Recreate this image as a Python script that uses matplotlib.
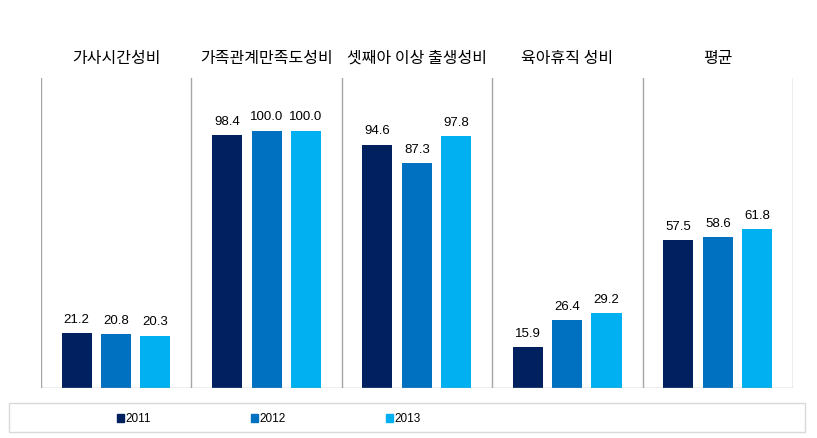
import matplotlib
matplotlib.use("Agg")
import matplotlib.pyplot as plt
from matplotlib.patches import Rectangle
import numpy as np

plt.rcParams['font.family'] = ['Noto Sans CJK KR', 'DejaVu Sans']

categories = ['가사시간성비', '가족관계만족도성비', '셋째아 이상 출생성비', '육아휴직 성비', '평균']
years = ['2011', '2012', '2013']
v2011 = [21.2, 98.4, 94.6, 15.9, 57.5]
v2012 = [20.8, 100.0, 87.3, 26.4, 58.6]
v2013 = [20.3, 100.0, 97.8, 29.2, 61.8]
colors = ['#002060', '#0070C0', '#00B0F0']

fig = plt.figure(figsize=(8.17, 4.39), dpi=100)
ax = fig.add_axes([41/817, 1-389/439, (793-41)/817, (389-79)/439])
ax.set_xlim(0, 5)
ax.set_ylim(0, 120.5)

offsets = [-0.263, 0.0, 0.26]
w = 0.2
x = np.arange(len(categories)) + 0.5
for vals, off, c, yr in zip([v2011, v2012, v2013], offsets, colors, years):
    ax.bar(x + off, vals, width=w, color=c, label=yr)
    for xi, v in zip(x + off, vals):
        ax.annotate(f'{v:.1f}', (xi, v), xytext=(0, 6), textcoords='offset points',
                    ha='center', va='bottom', fontsize=9.5, family=['Liberation Sans', 'DejaVu Sans'],
                    color='#000000')

for i in range(len(categories) + 1):
    ax.axvline(i, color='#a6a6a6', lw=1.0)
ax.axhline(0, color='#a6a6a6', lw=1.0)

for sp in ax.spines.values():
    sp.set_visible(False)
ax.set_xticks([])
ax.set_yticks([])

for xi, cat in zip(x, categories):
    fig.text((41 + xi * (793-41)/5)/817, 1-58/439, cat, ha='center', va='center', fontsize=11.5)

# legend box
fig.patches.append(Rectangle((9/817, 1-433/439), (805-9)/817, (433-404)/439,
                             transform=fig.transFigure, fill=False, edgecolor='#d9d9d9', lw=1))
leg_x = [117, 251, 386]
for lx, c, yr in zip(leg_x, colors, years):
    fig.patches.append(Rectangle((lx/817, 1-423/439), 7/817, 8/439, transform=fig.transFigure,
                                 color=c))
    fig.text((lx+8)/817, 1-419/439, yr, ha='left', va='center', fontsize=8.5,
             family=['Liberation Sans', 'DejaVu Sans'])

fig.savefig('out.png', dpi=100)
